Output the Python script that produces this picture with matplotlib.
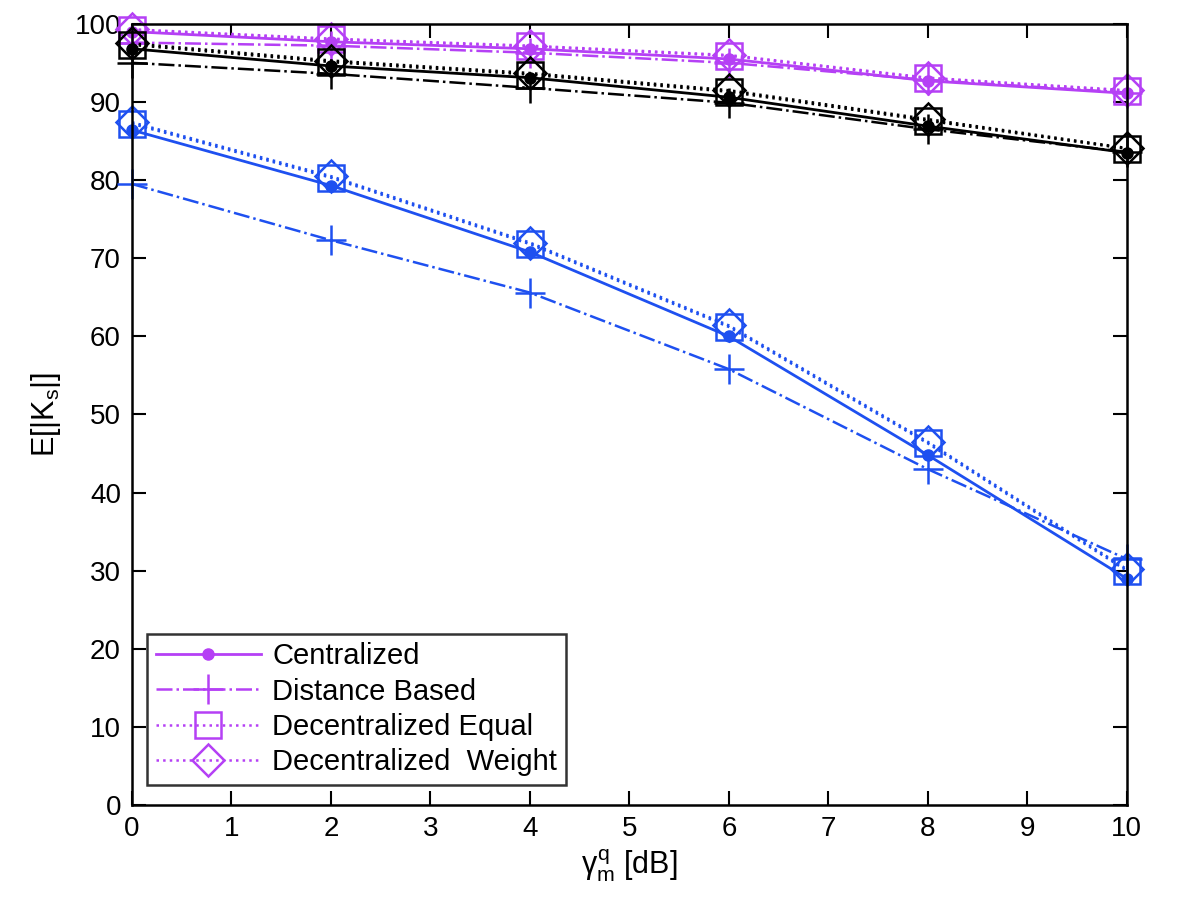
import numpy as np
import matplotlib
matplotlib.use('Agg')
import matplotlib.pyplot as plt
from matplotlib.ticker import MultipleLocator

plt.rcParams['font.family'] = ['Liberation Sans', 'DejaVu Sans']
plt.rcParams['mathtext.fontset'] = 'custom'
plt.rcParams['mathtext.rm'] = 'Liberation Sans'
plt.rcParams['mathtext.it'] = 'Liberation Sans'
plt.rcParams['mathtext.bf'] = 'Liberation Sans:bold'

# данные
gamma_db = [0, 2, 4, 6, 8, 10]

# фиолетовые кривые
purple_central = [99.0, 97.7, 96.8, 95.5, 92.7, 91.1]
purple_distance = [97.6, 97.2, 96.3, 95.0, 92.8, 91.2]
purple_equal = [99.2, 98.0, 97.1, 95.9, 93.0, 91.4]
purple_weight = [99.3, 98.1, 97.2, 96.0, 93.1, 91.5]

# чёрные кривые
black_central = [96.8, 94.6, 93.1, 90.6, 86.9, 83.5]
black_distance = [95.0, 93.6, 91.8, 89.9, 86.5, 83.6]
black_equal = [97.3, 95.1, 93.5, 91.3, 87.6, 84.0]
black_weight = [97.5, 95.3, 93.7, 91.5, 87.8, 84.1]

# синие кривые
blue_central = [86.4, 79.3, 70.8, 60.0, 44.8, 29.0]
blue_distance = [79.5, 72.3, 65.6, 55.8, 43.0, 31.5]
blue_equal = [87.2, 80.3, 71.8, 61.2, 46.3, 30.0]
blue_weight = [87.4, 80.5, 72.0, 61.4, 46.5, 30.2]

labels = ['Centralized', 'Distance Based', 'Decentralized Equal', 'Decentralized  Weight']

purple = '#B540F5'
blue = '#1E50F0'
black = '#000000'

groups = [
    (purple, [purple_central, purple_distance, purple_equal, purple_weight]),
    (black, [black_central, black_distance, black_equal, black_weight]),
    (blue, [blue_central, blue_distance, blue_equal, blue_weight]),
]

fig = plt.figure(figsize=(12, 9.15), dpi=100)
ax = fig.add_axes([0.11, 0.12, 0.829, 0.854])

handles = []
for color, series in groups:
    c, d, e, w = series
    h1, = ax.plot(gamma_db, c, color=color, lw=2, ls='-', marker='o', ms=8, clip_on=False)
    h2, = ax.plot(gamma_db, d, color=color, lw=1.8, ls='-.', marker='+', ms=22, mew=1.8, clip_on=False)
    h3, = ax.plot(gamma_db, e, color=color, lw=1.8, ls=':', marker='s', ms=19, mfc='none', mew=1.8, clip_on=False)
    h4, = ax.plot(gamma_db, w, color=color, lw=1.8, ls=':', marker='D', ms=16, mfc='none', mew=1.8, clip_on=False)
    if color == purple:
        handles = [h1, h2, h3, h4]

ax.set_xlim(0, 10)
ax.set_ylim(0, 100)
ax.xaxis.set_major_locator(MultipleLocator(1))
ax.yaxis.set_major_locator(MultipleLocator(10))
ax.tick_params(direction='in', length=10, width=1.5, top=True, right=True, labelsize=20, pad=8)
for s in ax.spines.values():
    s.set_linewidth(1.8)

ax.set_xlabel(r'$\gamma_{m}^{q}$ [dB]', fontsize=22, labelpad=4)
ax.set_ylabel(r'E[|K$_{\mathrm{s}}$|]', fontsize=22, labelpad=8)

leg = ax.legend(handles, labels, loc='lower left', bbox_to_anchor=(0.015, 0.026),
                borderaxespad=0, fontsize=21, frameon=True, fancybox=False, edgecolor='black',
                handlelength=3.6, borderpad=0.3, labelspacing=0.25, handletextpad=0.4)
leg.get_frame().set_linewidth(1.8)

fig.savefig('out.png', dpi=100)
